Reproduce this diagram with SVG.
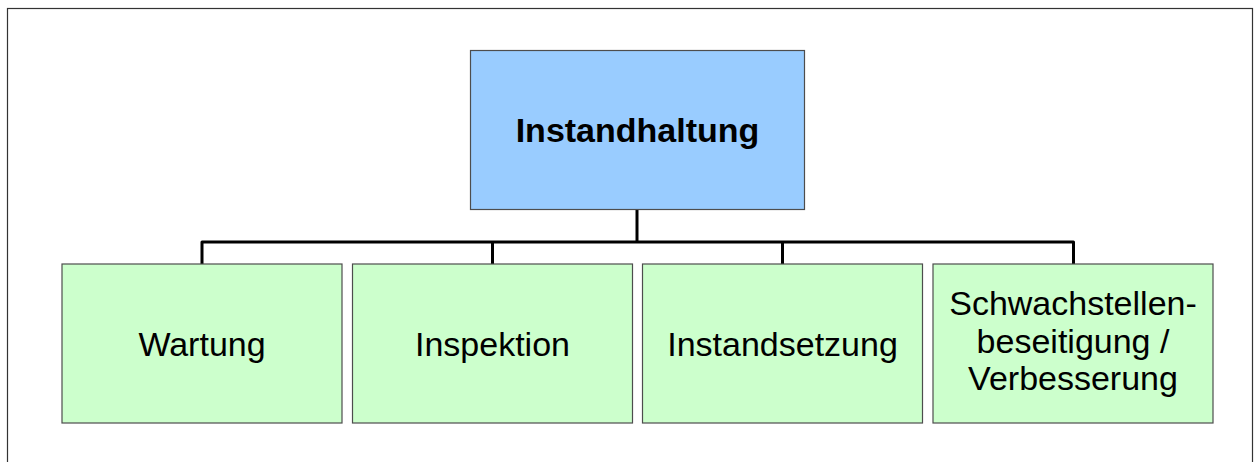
<svg xmlns="http://www.w3.org/2000/svg" width="1258" height="462" viewBox="0 0 1258 462">
  <style>
    .frame { fill: #ffffff; stroke: #333333; stroke-width: 1.2; }
    .box { stroke: #4d4d4d; stroke-width: 1.2; }
    .root { fill: #99ccff; }
    .leaf { fill: #ccffcc; }
    .label { font-family: "Liberation Sans", Arial, sans-serif; font-size: 34px; fill: #000000; text-anchor: middle; }
    .bold { font-weight: bold; }
    .link { fill: none; stroke: #000000; stroke-width: 3; stroke-linejoin: round; }
  </style>
  <rect x="0" y="0" width="1258" height="462" fill="#ffffff"/>
  <rect class="frame" x="7.5" y="8.5" width="1245" height="470"/>

  <g id="connectors">
    <path class="link" d="M637 210 V242"/>
    <path class="link" d="M202 264 V242 H1073.5 V264"/>
    <path class="link" d="M492.5 242 V264"/>
    <path class="link" d="M782.5 242 V264"/>
  </g>

  <g id="instandhaltung">
    <rect class="box root" x="470.5" y="50.5" width="334" height="159"/>
    <text class="label bold" x="637.5" y="142">Instandhaltung</text>
  </g>

  <g id="wartung">
    <rect class="box leaf" x="62" y="264" width="280" height="159"/>
    <text class="label" x="202" y="356">Wartung</text>
  </g>

  <g id="inspektion">
    <rect class="box leaf" x="352.5" y="264" width="280" height="159"/>
    <text class="label" x="492.5" y="356">Inspektion</text>
  </g>

  <g id="instandsetzung">
    <rect class="box leaf" x="642.5" y="264" width="280" height="159"/>
    <text class="label" x="782.5" y="356">Instandsetzung</text>
  </g>

  <g id="schwachstellenbeseitigung">
    <rect class="box leaf" x="933" y="264" width="280" height="159"/>
    <text class="label" x="1073" y="315">Schwachstellen-</text>
    <text class="label" x="1073" y="352.5">beseitigung /</text>
    <text class="label" x="1073" y="390">Verbesserung</text>
  </g>
</svg>
